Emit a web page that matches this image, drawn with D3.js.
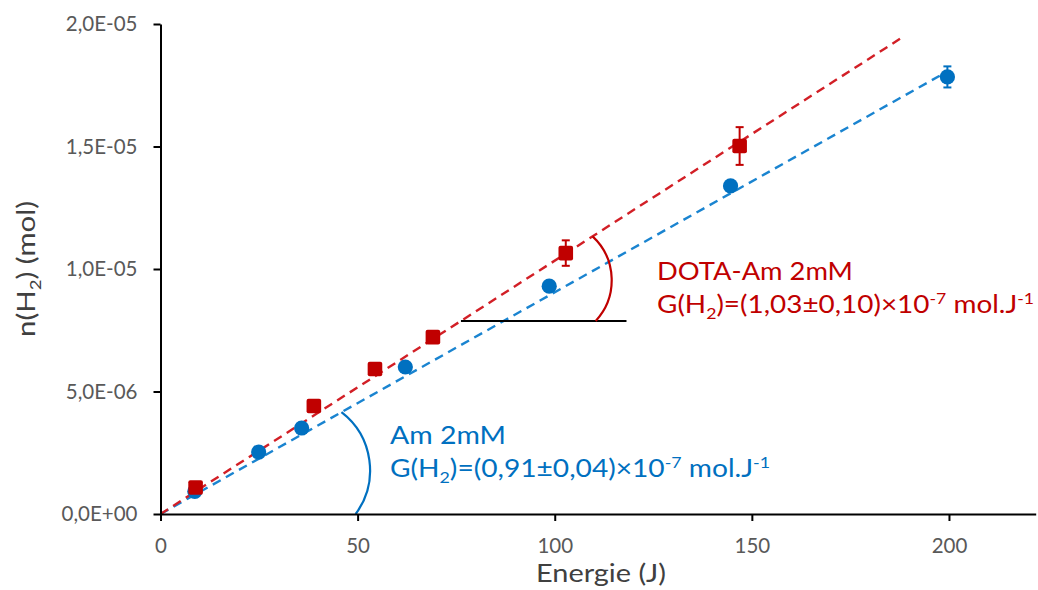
<!DOCTYPE html>
<html>
<head>
<meta charset="utf-8">
<script src="https://cdn.jsdelivr.net/npm/d3@7"></script>
<style>
  html, body { margin: 0; padding: 0; background: #fff; }
  svg { display: block; font-family: Lato, "Open Sans", sans-serif; }
</style>
</head>
<body>
<svg id="chart" width="1038" height="590"></svg>
<script>
// ---- data (energy in J, n(H2) in mol) ----
const amEnergy   = [8.7, 24.9, 35.8, 62.1, 98.6, 144.6, 199.6];
const amH2       = [0.92e-6, 2.53e-6, 3.51e-6, 6.0e-6, 9.3e-6, 13.39e-6, 17.84e-6];
const amErr      = [0.08e-6, 0.08e-6, 0.08e-6, 0.1e-6, 0.12e-6, 0.15e-6, 0.43e-6];

const dotaEnergy = [8.9, 38.9, 54.4, 69.1, 102.8, 146.9];
const dotaH2     = [1.08e-6, 4.41e-6, 5.92e-6, 7.22e-6, 10.65e-6, 15.02e-6];
const dotaErr    = [0.08e-6, 0.08e-6, 0.08e-6, 0.1e-6, 0.52e-6, 0.77e-6];

// trend lines through origin (slope in mol/J), drawn from 0 to end energy
const trendSeries = ["Am 2mM", "DOTA-Am 2mM"];
const trendSlope  = [0.0905e-6, 0.1034e-6];
const trendEnd    = [198, 188];

const xTickVals   = [0, 50, 100, 150, 200];
const xTickLabels = ["0", "50", "100", "150", "200"];
const yTickVals   = [0, 5e-6, 1e-5, 1.5e-5, 2e-5];
const yTickLabels = ["0,0E+00", "5,0E-06", "1,0E-05", "1,5E-05", "2,0E-05"];

const BLUE = "#0070C0", RED = "#C00000";
const BLUE_LINE = "#1a84d0", RED_LINE = "#d21f26";

const svg = d3.select("#chart");
const x = d3.scaleLinear().domain([0, 222]).range([160.5, 1035.7]);
const y = d3.scaleLinear().domain([0, 2e-5]).range([514, 24]);

// ---- trend lines ----
const line = d3.line().x(d => x(d[0])).y(d => y(d[1]));
const trendColors = [BLUE_LINE, RED_LINE];
trendSeries.forEach((s, i) => {
  svg.append("path")
    .attr("d", line([[0, 0], [trendEnd[i], trendSlope[i] * trendEnd[i]]]))
    .attr("fill", "none")
    .attr("stroke", trendColors[i])
    .attr("stroke-width", 2.4)
    .attr("stroke-dasharray", "9,6");
});

// ---- angle annotations ----
const hY = 7.88e-6;
const hX0 = hY / trendSlope[1];
svg.append("line")
  .attr("x1", x(hX0)).attr("x2", x(118.2))
  .attr("y1", y(hY)).attr("y2", y(hY))
  .attr("stroke", "#000").attr("stroke-width", 2);

function arcPath(p0, p1, sag) {
  const dx = p1[0] - p0[0], dy = p1[1] - p0[1];
  const c = Math.hypot(dx, dy);
  const r = (c * c / 4 + sag * sag) / (2 * sag);
  return `M${p0[0]},${p0[1]} A${r},${r} 0 0 0 ${p1[0]},${p1[1]}`;
}
const rStartE = 110.4, rEndE = 109.6;
svg.append("path")
  .attr("d", arcPath([x(rStartE), y(hY)], [x(rEndE), y(trendSlope[1] * rEndE)], 17.5))
  .attr("fill", "none").attr("stroke", RED).attr("stroke-width", 2.2);
const bStartE = 49.5, bEndE = 45.9;
svg.append("path")
  .attr("d", arcPath([x(bStartE), y(0)], [x(bEndE), y(trendSlope[0] * bEndE)], 21))
  .attr("fill", "none").attr("stroke", BLUE).attr("stroke-width", 2.2);

// ---- axes ----
const xAxis = d3.axisBottom(x).tickValues(xTickVals)
  .tickFormat((d, i) => xTickLabels[i]).tickSizeInner(7).tickSizeOuter(0).tickPadding(17);
const yAxis = d3.axisLeft(y).tickValues(yTickVals)
  .tickFormat((d, i) => yTickLabels[i]).tickSizeInner(7).tickSizeOuter(0).tickPadding(16);

const gx = svg.append("g").attr("transform", "translate(0,514)").call(xAxis);
const gy = svg.append("g").attr("transform", "translate(160.5,0)").call(yAxis);
[gx, gy].forEach(g => {
  g.select(".domain").attr("stroke", "#000").attr("stroke-width", 2);
  g.selectAll(".tick line").attr("stroke", "#000").attr("stroke-width", 2);
  g.selectAll(".tick text").attr("fill", "#595959")
    .style("font-family", "Lato, sans-serif").style("font-size", "20.5px");
});

// ---- error bars ----
function errorBars(xs, ys, es, color) {
  const g = svg.append("g").attr("stroke", color).attr("stroke-width", 2);
  xs.forEach((xv, i) => {
    const cx = x(xv), top = y(ys[i] + es[i]), bot = y(ys[i] - es[i]);
    g.append("line").attr("x1", cx).attr("x2", cx).attr("y1", top).attr("y2", bot);
    g.append("line").attr("x1", cx - 4).attr("x2", cx + 4).attr("y1", top).attr("y2", top);
    g.append("line").attr("x1", cx - 4).attr("x2", cx + 4).attr("y1", bot).attr("y2", bot);
  });
}
errorBars(amEnergy, amH2, amErr, BLUE);
errorBars(dotaEnergy, dotaH2, dotaErr, RED);

// ---- markers ----
svg.append("g").selectAll("circle").data(amEnergy).join("circle")
  .attr("cx", d => x(d)).attr("cy", (d, i) => y(amH2[i])).attr("r", 7.6)
  .attr("fill", BLUE);
svg.append("g").selectAll("rect").data(dotaEnergy).join("rect")
  .attr("x", d => x(d) - 7.3).attr("y", (d, i) => y(dotaH2[i]) - 7.3)
  .attr("width", 14.6).attr("height", 14.6).attr("rx", 2)
  .attr("fill", RED);

// ---- axis titles ----
svg.append("text")
  .attr("x", 601).attr("y", 582).attr("text-anchor", "middle")
  .attr("fill", "#404040").style("font-size", "24.5px")
  .attr("textLength", 130).attr("lengthAdjust", "spacingAndGlyphs")
  .text("Energie (J)");

const yt = svg.append("text")
  .attr("transform", "translate(35,269) rotate(-90)")
  .attr("text-anchor", "middle")
  .attr("fill", "#404040").style("font-size", "24.5px")
  .attr("textLength", 136).attr("lengthAdjust", "spacingAndGlyphs");
yt.append("tspan").text("n(H");
yt.append("tspan").attr("dy", 6).style("font-size", "15.5px").text("2");
yt.append("tspan").attr("dy", -6).text(") (mol)");

// ---- annotation texts ----
function gText(x0, y0, color, val, width) {
  const t = svg.append("text").attr("x", x0).attr("y", y0)
    .attr("fill", color).style("font-size", "24.5px")
    .attr("textLength", width).attr("lengthAdjust", "spacingAndGlyphs");
  t.append("tspan").text("G(H");
  t.append("tspan").attr("dy", 6).style("font-size", "15.5px").text("2");
  t.append("tspan").attr("dy", -6).text(")=(" + val + ")×10");
  t.append("tspan").attr("dy", -9).style("font-size", "15.5px").text("-7");
  t.append("tspan").attr("dy", 9).text(" mol.J");
  t.append("tspan").attr("dy", -9).style("font-size", "15.5px").text("-1");
}
svg.append("text").attr("x", 657).attr("y", 280).attr("fill", RED)
  .style("font-size", "24.5px").attr("textLength", 196).attr("lengthAdjust", "spacingAndGlyphs")
  .text("DOTA-Am 2mM");
gText(657, 313, RED, "1,03±0,10", 377);

svg.append("text").attr("x", 390).attr("y", 444).attr("fill", BLUE)
  .style("font-size", "24.5px").attr("textLength", 116).attr("lengthAdjust", "spacingAndGlyphs")
  .text("Am 2mM");
gText(390, 477, BLUE, "0,91±0,04", 380);
</script>
</body>
</html>
